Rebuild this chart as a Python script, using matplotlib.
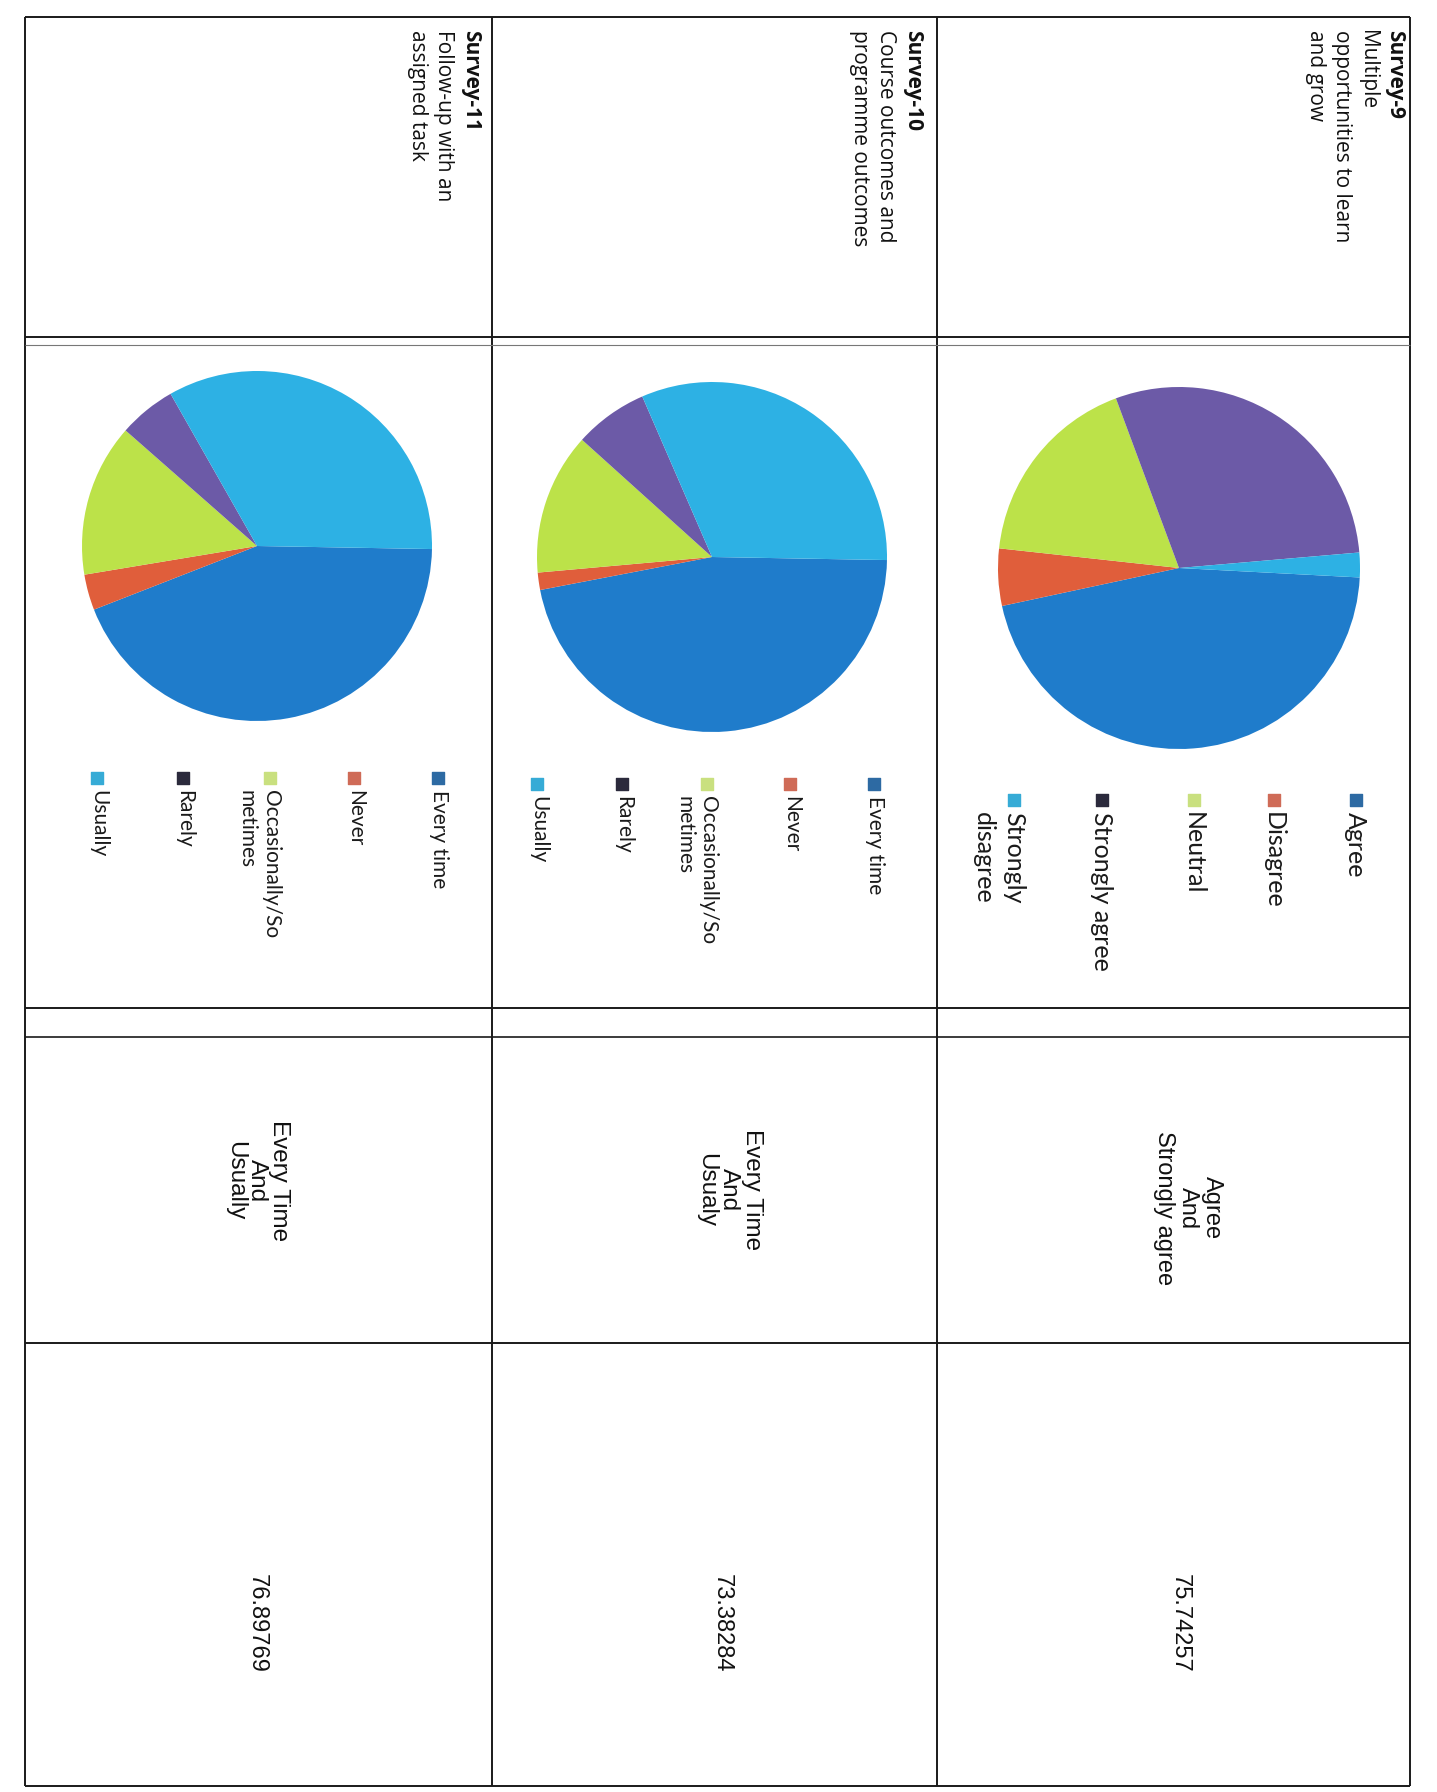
import matplotlib
matplotlib.use("Agg")
import matplotlib.pyplot as plt

# ---------------- data ----------------
survey_ids = ["Survey-9", "Survey-10", "Survey-11"]
survey_titles = ["Multiple\nopportunities to learn\nand grow",
                 "Course outcomes and\nprogramme outcomes",
                 "Follow-up with an\nassigned task"]

categories_9 = ["Agree", "Disagree", "Neutral", "Strongly agree", "Strongly\ndisagree"]
values_9 = [45.8, 5.1, 17.6, 29.3, 2.2]

categories_10 = ["Every time", "Never", "Occasionally/So\nmetimes", "Rarely", "Usually"]
values_10 = [46.7, 1.6, 13.1, 6.8, 31.8]

categories_11 = ["Every time", "Never", "Occasionally/So\nmetimes", "Rarely", "Usually"]
values_11 = [43.8, 3.3, 14.1, 5.3, 33.5]

summary_labels = ["Agree\nAnd\nStrongly agree", "Every Time\nAnd\nUsualy", "Every Time\nAnd\nUsually"]
summary_values = [75.74257, 73.38284, 76.89769]

# ---------------- style ----------------
W, H = 1437, 1792
slice_colors = ["#1f7ccb", "#e05e3b", "#bce249", "#6c5aa7", "#2db1e4"]
legend_colors = ["#2d6aa3", "#cf6b57", "#c9e07f", "#2b2a3c", "#36abd6"]
title_font = "Open Sans"
legend_font = "Lato"
body_font = "Liberation Sans"
line_col = "#1a1a1a"

fig = plt.figure(figsize=(W / 100, H / 100), dpi=100)
fig.patch.set_facecolor("white")
ov = fig.add_axes([0, 0, 1, 1], zorder=0)
ov.set_xlim(0, W)
ov.set_ylim(H, 0)
ov.axis("off")

# layout per survey column (image pixels)
title_x = [1405, 923, 481]
pie_center = [(1179, 568), (712, 557), (257, 546)]
pie_radius = [181, 175, 175]
pie_start = [-3, -1, -1]
legend_x = [[1356, 1274, 1194, 1102, 1014],
            [874, 790, 707, 622, 537],
            [438, 354, 270, 183, 97]]
legend_y = [800, 784, 778]
legend_size = [18, 15, 15]
legend_ls = [1.35, 1.25, 1.25]
label_pos = [(1188, 1208), (729, 1190), (257, 1181)]
label_size = [17, 17.5, 17.5]
label_ls = [1.1, 1.05, 1.0]
value_x = [1180, 722, 257]
all_cats = [categories_9, categories_10, categories_11]
all_vals = [values_9, values_10, values_11]

# ---------------- table lines ----------------
def hline(y, x0, x1, lw=1.4, c=line_col):
    ov.plot([x0, x1], [y, y], color=c, lw=lw, solid_capstyle="butt")

def vline(x, y0, y1, lw=1.4, c=line_col):
    ov.plot([x, x], [y0, y1], color=c, lw=lw, solid_capstyle="butt")

top, bottom = 17, 1786
for x in [25, 492, 937, 1410]:
    vline(x, top, bottom)
hline(top, 25, 1410)
hline(337, 25, 1410)
hline(345, 25, 1410, lw=0.8, c="#777777")
hline(1008, 25, 1410)
hline(1037, 25, 1410, lw=1.2)
hline(1343, 25, 1410)
hline(bottom, 25, 1410)

# ---------------- per survey ----------------
for i in range(3):
    xr = title_x[i]
    ov.text(xr, 30, survey_ids[i], rotation=270, rotation_mode="anchor",
            ha="left", va="top", fontsize=15, fontweight="bold",
            family=title_font, color="#111111")
    ov.text(xr - 27, 30, survey_titles[i], rotation=270, rotation_mode="anchor",
            ha="left", va="top", fontsize=15, family=title_font, color="#111111",
            linespacing=1.3)

    cx, cy = pie_center[i]
    r = pie_radius[i]
    pax = fig.add_axes([(cx - r) / W, 1 - (cy + r) / H, 2 * r / W, 2 * r / H], zorder=2)
    pax.pie(all_vals[i], colors=slice_colors, startangle=pie_start[i], counterclock=False,
            radius=1.0, wedgeprops=dict(linewidth=0))
    pax.set_xlim(-1, 1)
    pax.set_ylim(-1, 1)
    pax.set_aspect("equal")
    pax.axis("off")

    for j, cat in enumerate(all_cats[i]):
        lx = legend_x[i][j]
        ly = legend_y[i]
        ov.scatter([lx], [ly], marker="s", s=70, color=legend_colors[j], zorder=3)
        ov.text(lx + 11, ly + 12, cat, rotation=270, rotation_mode="anchor",
                ha="left", va="top", fontsize=legend_size[i], family=legend_font,
                color="#1a1a1a", linespacing=legend_ls[i])

    lxp, lyp = label_pos[i]
    ov.text(lxp, lyp, summary_labels[i], rotation=270, rotation_mode="anchor",
            ha="center", va="center", multialignment="center", fontsize=label_size[i],
            family=body_font, color="#111111", linespacing=label_ls[i])

    ov.text(value_x[i], 1623, f"{summary_values[i]:.5f}", rotation=270, rotation_mode="anchor",
            ha="center", va="center", fontsize=17, family=body_font, color="#111111")

fig.savefig("out.png", dpi=100, facecolor="white")
